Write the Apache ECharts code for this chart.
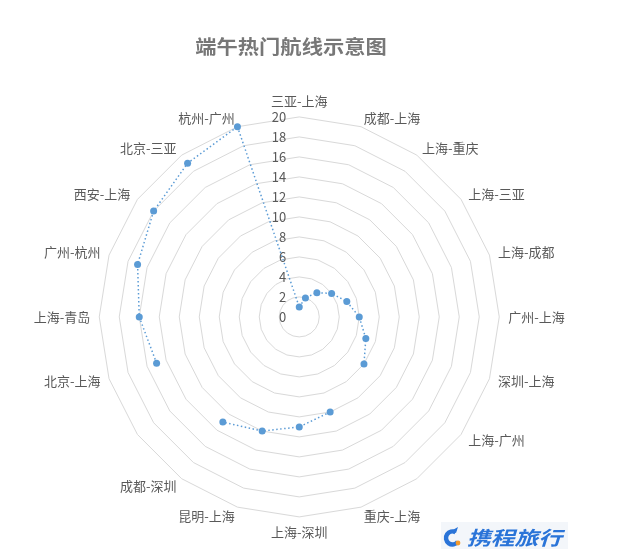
<!DOCTYPE html>
<html>
<head>
<meta charset="utf-8">
<script src="https://cdn.jsdelivr.net/npm/echarts@6/dist/echarts.min.js"></script>
<style>
  html, body { margin: 0; padding: 0; background: #fff; }
  #chart { width: 630px; height: 556px; }
</style>
</head>
<body>
<div id="chart"></div>
<script>
// routes, clockwise from the top; two slots are blank in the source
var routes = ['三亚-上海', '成都-上海', '上海-重庆', '上海-三亚', '上海-成都', '广州-上海',
    '深圳-上海', '上海-广州', '', '重庆-上海', '上海-深圳', '昆明-上海', '成都-深圳', '',
    '北京-上海', '上海-青岛', '广州-杭州', '西安-上海', '北京-三亚', '杭州-广州'];
var ranks = [1, 2, 3, 4, 5, 6, 7, 8, null, 10, 11, 12, 13, null, 15, 16, 17, 18, 19, 20];
var tickMax = 20, tickStep = 2;

var center = ['47.5%', '57%'];
var radius = 200;
var font = '"Noto Sans CJK SC", "Noto Sans", sans-serif';
var blue = '#5b9bd5';
var dash = [1.5, 2.5];

// radar goes counter-clockwise, so feed it the routes reversed (keeping the top one first)
var indicator = [];
for (var i = 0; i < routes.length; i++) {
    var k = i == 0 ? 0 : routes.length - i;
    var ind = { name: routes[k], min: 0, max: tickMax };
    if (i == 0) ind.axisLabel = { show: true };
    indicator.push(ind);
}

// line points on the polar overlay
var lineData = [];
for (var j = 0; j < routes.length; j++) {
    lineData.push([ranks[j] == null ? '-' : ranks[j], j]);
}
var last = routes.length - 1;

var myChart = echarts.init(document.getElementById('chart'));
var option = {
    animation: false,
    backgroundColor: '#fff',
    textStyle: { fontFamily: font },
    radar: {
        center: center,
        radius: radius,
        startAngle: 90,
        shape: 'polygon',
        splitNumber: tickMax / tickStep,
        nameGap: 9,
        axisName: { color: '#595959', fontSize: 13 },
        axisLine: { show: false },
        axisTick: { show: false },
        axisLabel: { show: false, color: '#595959', fontSize: 13, margin: 13 },
        splitLine: { lineStyle: { color: '#d9d9d9', width: 1 } },
        splitArea: { show: false },
        indicator: indicator
    },
    polar: { center: center, radius: radius },
    angleAxis: {
        type: 'category',
        data: routes,
        startAngle: 90,
        clockwise: true,
        boundaryGap: false,
        show: false
    },
    radiusAxis: { type: 'value', min: 0, max: tickMax, show: false },
    series: [{
        type: 'line',
        coordinateSystem: 'polar',
        data: lineData,
        connectNulls: false,
        clip: false,
        symbol: 'circle',
        symbolSize: 7,
        z: 3,
        itemStyle: { color: blue },
        lineStyle: { color: blue, width: 1.5, type: dash },
        silent: true
    }],
    graphic: [
        // title drawn as graphic text so it can be widened like the original
        { type: 'text', x: 291, y: 47, scaleX: 1.12,
          style: { text: '端午热门航线示意图', fill: '#777', fontSize: 19, fontWeight: 'bold',
                   align: 'center', verticalAlign: 'middle', fontFamily: font } },
        // logo
        { type: 'rect', shape: { x: 441, y: 522, width: 127, height: 27 }, style: { fill: '#f3f6fa' } },
        { type: 'arc', shape: { cx: 452.5, cy: 538, r: 6.5, startAngle: 0.6, endAngle: 5.2 },
          style: { stroke: '#2a74d8', lineWidth: 4.5, fill: null } },
        { type: 'polygon', shape: { points: [[451, 531], [458, 527], [456, 533]] }, style: { fill: '#2a74d8' } },
        { type: 'circle', shape: { cx: 458, cy: 543, r: 2.4 }, style: { fill: '#f29a2e' } },
        { type: 'text', x: 467, y: 538, scaleX: 1.25, scaleY: 1,
          style: { text: '携程旅行', fill: '#2a74d8', fontSize: 19, fontWeight: 'bold', fontStyle: 'italic',
                   verticalAlign: 'middle', fontFamily: font } }
    ]
};
myChart.setOption(option);

// close the loop: last route back to the first, placed through the polar scale
var pA = myChart.convertToPixel({ polarIndex: 0 }, [ranks[last], last]);
var pB = myChart.convertToPixel({ polarIndex: 0 }, [ranks[0], 0]);
myChart.setOption({
    graphic: [{
        id: 'closing', type: 'line', z: 2,
        shape: { x1: pA[0], y1: pA[1], x2: pB[0], y2: pB[1] },
        style: { stroke: blue, lineWidth: 1.5, lineDash: dash }
    }]
});
</script>
</body>
</html>
